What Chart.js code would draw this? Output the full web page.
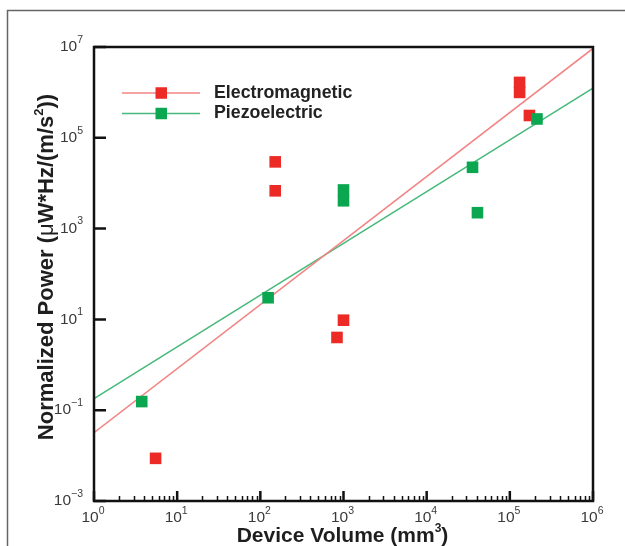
<!DOCTYPE html>
<html>
<head>
<meta charset="utf-8">
<title>Normalized power vs device volume</title>
<script src="https://cdn.jsdelivr.net/npm/chart.js@4.4.1/dist/chart.umd.min.js"></script>
<style>
  html, body { margin: 0; padding: 0; background: #fff; }
  #wrap { width: 625px; height: 546px; position: relative; }
</style>
</head>
<body>
<div id="wrap"><canvas id="chart"></canvas></div>
<script>
// Values (mm^3 and uW*Hz/(m/s^2))
const emVolume = [5.5, 151, 151, 1000, 835, 1.31e5, 1.31e5, 1.72e5];
const emPower  = [0.0087, 29500, 6800, 9.6, 4.0, 1.66e6, 1.0e6, 3.1e5];
const pzVolume = [3.75, 124, 1000, 1000, 3.56e4, 4.08e4, 2.12e5];
const pzPower  = [0.155, 30, 7100, 4100, 2.24e4, 2240, 2.6e5];

// trend lines, end points at the axis limits
const fitVolume = [1, 1e6];
const emFit = [0.032, 9.3e6];
const pzFit = [0.18, 1.24e6];

const seriesNames = ['Electromagnetic', 'Piezoelectric'];
const xTickExp = [0, 1, 2, 3, 4, 5, 6];
const yTickExp = [-3, -1, 1, 3, 5, 7];

const RED = '#ec2a26', GREEN = '#0aa650';
const RED_LINE = '#f28484', GREEN_LINE = '#46b97a';
const FONT = '"Liberation Sans", Arial, Helvetica, sans-serif';

function pairs(xs, ys) {
  return xs.map((x, i) => ({ x: x, y: ys[i] }));
}

// draw a run of text pieces: [text, font, dy]
function drawRuns(ctx, runs, x, y) {
  let cx = x;
  runs.forEach(r => {
    ctx.font = r[1];
    ctx.fillText(r[0], cx, y + (r[2] || 0));
    cx += ctx.measureText(r[0]).width;
  });
}
function runsWidth(ctx, runs) {
  let w = 0;
  runs.forEach(r => { ctx.font = r[1]; w += ctx.measureText(r[0]).width; });
  return w;
}
function powRuns(e) {
  const s = e < 0 ? '\u2212' + Math.abs(e) : String(e);
  return [['10', '15.5px ' + FONT, 0], [s, '10.5px ' + FONT, -7]];
}

const decor = {
  id: 'decor',
  afterDraw(chart) {
    const ctx = chart.ctx;
    const a = chart.chartArea;
    const xs = chart.scales.x, ys = chart.scales.y;
    ctx.save();

    // outer figure frame (only top and left visible)
    ctx.strokeStyle = '#666';
    ctx.lineWidth = 1.5;
    ctx.beginPath();
    ctx.moveTo(7.5, 546);
    ctx.lineTo(7.5, 10.5);
    ctx.lineTo(625, 10.5);
    ctx.stroke();

    // plot frame
    ctx.strokeStyle = '#111';
    ctx.lineWidth = 2.5;
    ctx.strokeRect(a.left, a.top, a.right - a.left, a.bottom - a.top);

    // x ticks, inward
    ctx.lineWidth = 1.5;
    ctx.beginPath();
    for (let e = xTickExp[0]; e < xTickExp[xTickExp.length - 1]; e++) {
      for (let k = 2; k <= 9; k++) {
        const px = Math.round(xs.getPixelForValue(k * Math.pow(10, e))) + 0.5;
        ctx.moveTo(px, a.bottom);
        ctx.lineTo(px, a.bottom - 5);
      }
    }
    ctx.stroke();
    ctx.lineWidth = 2.5;
    ctx.beginPath();
    xTickExp.forEach(e => {
      const px = xs.getPixelForValue(Math.pow(10, e));
      ctx.moveTo(px, a.bottom);
      ctx.lineTo(px, a.bottom - 10);
    });
    yTickExp.forEach(e => {
      const py = ys.getPixelForValue(Math.pow(10, e));
      ctx.moveTo(a.left, py);
      ctx.lineTo(a.left + 12, py);
    });
    ctx.stroke();

    // tick labels
    ctx.fillStyle = '#3a3a3a';
    ctx.textBaseline = 'middle';
    ctx.textAlign = 'left';
    xTickExp.forEach(e => {
      const runs = powRuns(e);
      const w = runsWidth(ctx, runs);
      const px = xs.getPixelForValue(Math.pow(10, e));
      drawRuns(ctx, runs, px - w / 2 - 1, a.bottom + 17);
    });
    yTickExp.forEach(e => {
      const runs = powRuns(e);
      const w = runsWidth(ctx, runs);
      const py = ys.getPixelForValue(Math.pow(10, e));
      drawRuns(ctx, runs, 83 - w, py);
    });

    // axis titles
    ctx.fillStyle = '#1e1e1e';
    ctx.textBaseline = 'alphabetic';
    const xb = 'bold 21px ' + FONT;
    const xTitle = [['Device Volume (mm', xb, 0], ['3', 'bold 12px ' + FONT, -10], [')', xb, 0]];
    const xw = runsWidth(ctx, xTitle);
    drawRuns(ctx, xTitle, 342.5 - xw / 2, 542);

    const yb = 'bold 22px ' + FONT;
    const yTitle = [['Normalized Power (', yb, 0], ['\u03bc', '22px ' + FONT, 0],
      ['W*Hz/(m/s', yb, 0], ['2', 'bold 13px ' + FONT, -10], ['))', yb, 0]];
    const yw = runsWidth(ctx, yTitle);
    ctx.save();
    ctx.translate(53, 267);
    ctx.rotate(-Math.PI / 2);
    drawRuns(ctx, yTitle, -yw / 2, 0);
    ctx.restore();

    // legend
    const lineCols = [RED_LINE, GREEN_LINE], dotCols = [RED, GREEN];
    seriesNames.forEach((name, i) => {
      const ly = 93 + 20.5 * i;
      ctx.strokeStyle = lineCols[i];
      ctx.lineWidth = 1.5;
      ctx.beginPath();
      ctx.moveTo(122, ly);
      ctx.lineTo(200, ly);
      ctx.stroke();
      ctx.fillStyle = dotCols[i];
      ctx.fillRect(155.5, ly - 5.75, 11.5, 11.5);
      ctx.fillStyle = '#222';
      ctx.font = 'bold 17.8px ' + FONT;
      ctx.textBaseline = 'middle';
      ctx.fillText(name, 214, ly);
    });

    ctx.restore();
  }
};

new Chart(document.getElementById('chart'), {
  type: 'scatter',
  data: {
    datasets: [
      {
        type: 'line', label: seriesNames[0] + ' fit', data: pairs(fitVolume, emFit),
        borderColor: RED_LINE, borderWidth: 1.5, pointRadius: 0, order: 3
      },
      {
        type: 'line', label: seriesNames[1] + ' fit', data: pairs(fitVolume, pzFit),
        borderColor: GREEN_LINE, borderWidth: 1.5, pointRadius: 0, order: 3
      },
      {
        label: seriesNames[0], data: pairs(emVolume, emPower),
        pointStyle: 'rect', pointRadius: 8.2, backgroundColor: RED, borderWidth: 0, order: 2
      },
      {
        label: seriesNames[1], data: pairs(pzVolume, pzPower),
        pointStyle: 'rect', pointRadius: 8.2, backgroundColor: GREEN, borderWidth: 0, order: 1
      }
    ]
  },
  options: {
    responsive: true,
    maintainAspectRatio: false,
    animation: false,
    events: [],
    layout: { padding: { left: 94, top: 47, right: 32, bottom: 45 } },
    scales: {
      x: { type: 'logarithmic', min: 1, max: 1e6, display: false },
      y: { type: 'logarithmic', min: 1e-3, max: 1e7, display: false }
    },
    plugins: {
      legend: { display: false },
      tooltip: { enabled: false }
    }
  },
  plugins: [decor]
});
</script>
</body>
</html>
